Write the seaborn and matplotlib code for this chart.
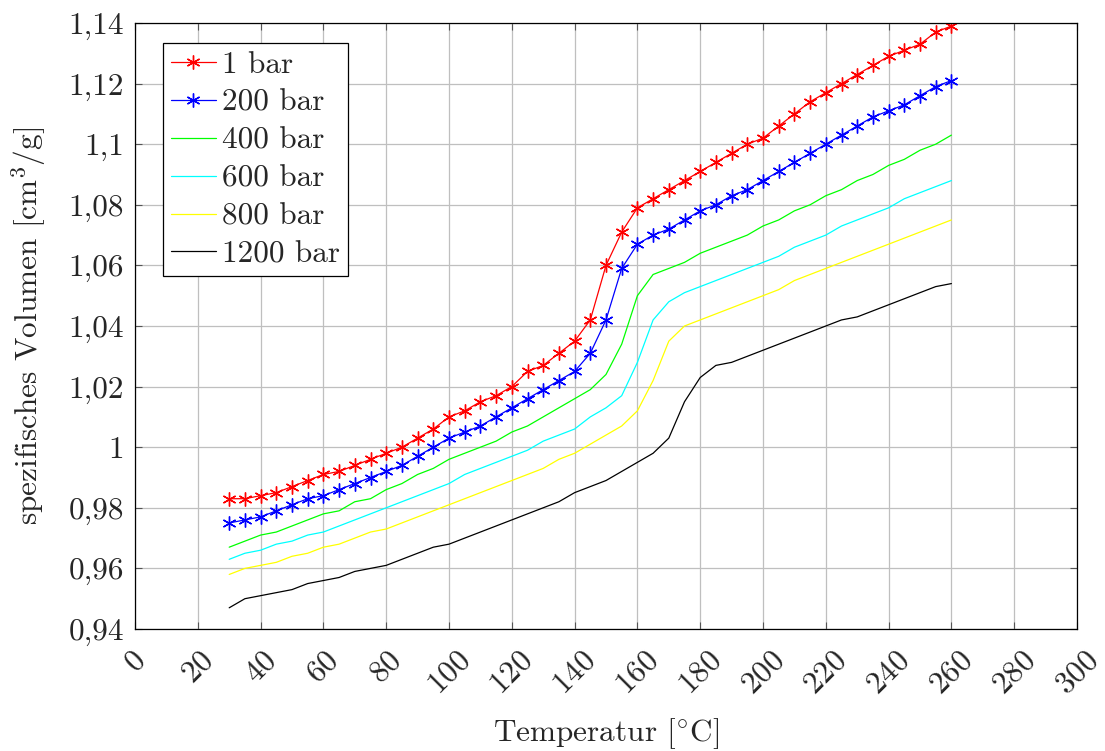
import numpy as np
import pandas as pd
import matplotlib
matplotlib.use("Agg")
import matplotlib.pyplot as plt
from matplotlib.ticker import FuncFormatter, MultipleLocator
import seaborn as sns

temperature = list(range(30, 261, 5))

v_1bar = [0.983, 0.983, 0.984, 0.985, 0.987, 0.989, 0.991, 0.992, 0.994, 0.996,
          0.998, 1.000, 1.003, 1.006, 1.010, 1.012, 1.015, 1.017, 1.020, 1.025,
          1.027, 1.031, 1.035, 1.042, 1.060, 1.071, 1.079, 1.082, 1.085, 1.088,
          1.091, 1.094, 1.097, 1.100, 1.102, 1.106, 1.110, 1.114, 1.117, 1.120,
          1.123, 1.126, 1.129, 1.131, 1.133, 1.137, 1.139]
v_200bar = [0.975, 0.976, 0.977, 0.979, 0.981, 0.983, 0.984, 0.986, 0.988, 0.990,
            0.992, 0.994, 0.997, 1.000, 1.003, 1.005, 1.007, 1.010, 1.013, 1.016,
            1.019, 1.022, 1.025, 1.031, 1.042, 1.059, 1.067, 1.070, 1.072, 1.075,
            1.078, 1.080, 1.083, 1.085, 1.088, 1.091, 1.094, 1.097, 1.100, 1.103,
            1.106, 1.109, 1.111, 1.113, 1.116, 1.119, 1.121]
v_400bar = [0.967, 0.969, 0.971, 0.972, 0.974, 0.976, 0.978, 0.979, 0.982, 0.983,
            0.986, 0.988, 0.991, 0.993, 0.996, 0.998, 1.000, 1.002, 1.005, 1.007,
            1.010, 1.013, 1.016, 1.019, 1.024, 1.034, 1.050, 1.057, 1.059, 1.061,
            1.064, 1.066, 1.068, 1.070, 1.073, 1.075, 1.078, 1.080, 1.083, 1.085,
            1.088, 1.090, 1.093, 1.095, 1.098, 1.100, 1.103]
v_600bar = [0.963, 0.965, 0.966, 0.968, 0.969, 0.971, 0.972, 0.974, 0.976, 0.978,
            0.980, 0.982, 0.984, 0.986, 0.988, 0.991, 0.993, 0.995, 0.997, 0.999,
            1.002, 1.004, 1.006, 1.010, 1.013, 1.017, 1.028, 1.042, 1.048, 1.051,
            1.053, 1.055, 1.057, 1.059, 1.061, 1.063, 1.066, 1.068, 1.070, 1.073,
            1.075, 1.077, 1.079, 1.082, 1.084, 1.086, 1.088]
v_800bar = [0.958, 0.960, 0.961, 0.962, 0.964, 0.965, 0.967, 0.968, 0.970, 0.972,
            0.973, 0.975, 0.977, 0.979, 0.981, 0.983, 0.985, 0.987, 0.989, 0.991,
            0.993, 0.996, 0.998, 1.001, 1.004, 1.007, 1.012, 1.022, 1.035, 1.040,
            1.042, 1.044, 1.046, 1.048, 1.050, 1.052, 1.055, 1.057, 1.059, 1.061,
            1.063, 1.065, 1.067, 1.069, 1.071, 1.073, 1.075]
v_1200bar = [0.947, 0.950, 0.951, 0.952, 0.953, 0.955, 0.956, 0.957, 0.959, 0.960,
             0.961, 0.963, 0.965, 0.967, 0.968, 0.970, 0.972, 0.974, 0.976, 0.978,
             0.980, 0.982, 0.985, 0.987, 0.989, 0.992, 0.995, 0.998, 1.003, 1.015,
             1.023, 1.027, 1.028, 1.030, 1.032, 1.034, 1.036, 1.038, 1.040, 1.042,
             1.043, 1.045, 1.047, 1.049, 1.051, 1.053, 1.054]

series_labels = ["1 bar", "200 bar", "400 bar", "600 bar", "800 bar", "1200 bar"]
series_values = [v_1bar, v_200bar, v_400bar, v_600bar, v_800bar, v_1200bar]
series_colors = ["#ff0000", "#0000ff", "#00ff00", "#00ffff", "#ffff00", "#000000"]
series_markers = [(6, 2, 0), (6, 2, 0), None, None, None, None]

FS = 22.5

sns.set_style("ticks")
plt.rcParams["font.family"] = ["cmr10", "DejaVu Serif"]
plt.rcParams["mathtext.fontset"] = "cm"
plt.rcParams["axes.formatter.use_mathtext"] = True
plt.rcParams["font.size"] = FS

fig = plt.figure(figsize=(11.05, 7.51), dpi=100)
ax = fig.add_axes([135 / 1105, 1 - 629 / 751, (1077 - 135) / 1105, (629 - 23) / 751])

for lab, vals, col, mk in zip(series_labels, series_values, series_colors, series_markers):
    df = pd.DataFrame({"T": temperature, "V": vals})
    kw = dict(marker=mk, markersize=10, markeredgewidth=1.0, markeredgecolor=col) if mk else {}
    sns.lineplot(data=df, x="T", y="V", ax=ax, color=col, linewidth=0.9, label=lab, **kw)

ax.set_xlim(0, 300)
ax.set_ylim(0.94, 1.14)
ax.xaxis.set_major_locator(MultipleLocator(20))
ax.yaxis.set_major_locator(MultipleLocator(0.02))
ax.yaxis.set_major_formatter(FuncFormatter(lambda v, p: f"{round(v, 2):g}".replace(".", ",")))
ax.grid(True, color="#bfbfbf", linewidth=0.9)
ax.set_axisbelow(True)
for s in ax.spines.values():
    s.set_linewidth(0.9)
    s.set_color("black")
ax.tick_params(direction="in", top=True, right=True, length=5, width=0.8, color="#555555",
               labelsize=FS)
ax.tick_params(axis="y", pad=8)
ax.tick_params(axis="x", pad=12)
for lbl in ax.get_xticklabels():
    lbl.set_rotation(45)
    lbl.set_ha("center")
    lbl.set_va("top")

ax.set_xlabel(r"Temperatur [$^{\circ}$C]", fontsize=FS, labelpad=12)
ax.set_ylabel(r"spezifisches Volumen [cm$^{3}$/g]", fontsize=FS, labelpad=14)

leg = ax.legend(loc="upper left", bbox_to_anchor=(0.0297, 0.967), fontsize=FS, frameon=True,
                fancybox=False, edgecolor="black", framealpha=1, handlelength=1.45,
                handletextpad=0.2, labelspacing=0.32, borderpad=0.25, borderaxespad=0)
leg.get_frame().set_linewidth(0.9)

fig.savefig("out.png", dpi=100)
